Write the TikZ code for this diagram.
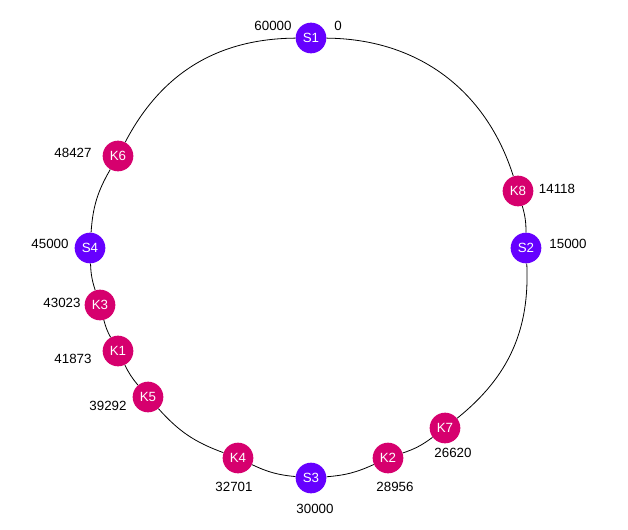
\documentclass[tikz,border=0pt]{standalone}
\usepackage{fontspec}
\setmainfont{Liberation Sans}
\definecolor{srvcol}{RGB}{102,0,255}
\definecolor{keycol}{RGB}{214,0,110}

\begin{document}
\begin{tikzpicture}[x=0.75pt,y=-0.75pt,
  srv/.style={circle,fill=srvcol,text=white,minimum size=23pt,inner sep=0pt,font=\fontsize{10}{12}\selectfont},
  key/.style={circle,fill=keycol,text=white,minimum size=23pt,inner sep=0pt,font=\fontsize{10}{12}\selectfont},
  lbl/.style={inner sep=0pt,font=\fontsize{10}{12}\selectfont},
  ring/.style={line width=0.6pt}]
\useasboundingbox (0,0) rectangle (628,529);
\node[srv] (S1) at (311,38) {S1};
\node[key] (K8) at (518,191) {K8};
\node[srv] (S2) at (526,248) {S2};
\node[key] (K7) at (445,428) {K7};
\node[key] (K2) at (388,458) {K2};
\node[srv] (S3) at (311,478) {S3};
\node[key] (K4) at (238,458) {K4};
\node[key] (K5) at (148,397) {K5};
\node[key] (K1) at (118,351) {K1};
\node[key] (K3) at (100,305) {K3};
\node[srv] (S4) at (90,248) {S4};
\node[key] (K6) at (118,156) {K6};
\node[lbl] (lS1a) at (273,26) {60000};
\node[lbl] (lS1b) at (338,26) {0};
\node[lbl] (lK8) at (557,189) {14118};
\node[lbl] (lS2) at (568,244) {15000};
\node[lbl] (lK7) at (453,453) {26620};
\node[lbl] (lK2) at (395,487) {28956};
\node[lbl] (lS3) at (315,509) {30000};
\node[lbl] (lK4) at (234,487) {32701};
\node[lbl] (lK5) at (108,406) {39292};
\node[lbl] (lK1) at (73,359) {41873};
\node[lbl] (lK3) at (62,303) {43023};
\node[lbl] (lS4) at (50,244) {45000};
\node[lbl] (lK6) at (73,153) {48427};
\draw[ring] (S1) to[bend left=36] (K8);
\draw[ring] (K8) to[bend left=8] (S2);
\draw[ring] (S2) to[bend left=27] (K7);
\draw[ring] (K7) to[bend left=9] (K2);
\draw[ring] (K2) to[bend left=10] (S3);
\draw[ring] (S3) to[bend left=10] (K4);
\draw[ring] (K4) to[bend left=14] (K5);
\draw[ring] (K5) to[bend left=7] (K1);
\draw[ring] (K1) to[bend left=7] (K3);
\draw[ring] (K3) to[bend left=8] (S4);
\draw[ring] (S4) to[bend left=13] (K6);
\draw[ring] (K6) to[bend left=31] (S1);
\end{tikzpicture}
\end{document}
